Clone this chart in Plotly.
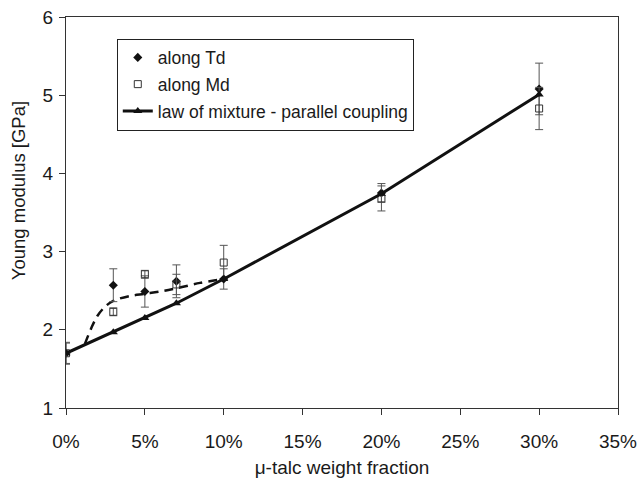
import plotly.graph_objects as go

# data
frac = [0.0, 0.03, 0.05, 0.07, 0.10, 0.20, 0.30]
td_vals = [1.70, 2.57, 2.49, 2.62, 2.65, 3.75, 5.08]
td_err = [0.14, 0.21, 0.20, 0.21, 0.13, 0.12, 0.33]
md_vals = [1.70, 2.23, 2.71, 2.58, 2.86, 3.68, 4.83]
md_err = [0.13, 0.05, 0.05, 0.13, 0.22, 0.16, 0.27]
law_vals = [1.70, 1.97, 2.15, 2.34, 2.65, 3.74, 5.01]
trend_x = [0.012, 0.016, 0.02, 0.025, 0.03, 0.04, 0.05, 0.06, 0.07, 0.085, 0.097]
trend_y = [1.82, 2.02, 2.18, 2.30, 2.37, 2.43, 2.46, 2.49, 2.53, 2.60, 2.64]

FONT = "Liberation Sans, Arial, sans-serif"
TXT = "#1a1a1a"

fig = go.Figure()

fig.add_trace(go.Scatter(
    x=trend_x, y=trend_y, mode="lines", showlegend=False,
    line=dict(color="#111111", width=2.5, dash="9px,6px", shape="spline"),
    hoverinfo="skip"))

fig.add_trace(go.Scatter(
    x=frac, y=td_vals, mode="markers", name="along Td", legendgroup="a",
    marker=dict(symbol="diamond", size=7, color="#111111"),
    error_y=dict(type="data", array=td_err, color="#555555", thickness=1, width=4)))

fig.add_trace(go.Scatter(
    x=frac, y=md_vals, mode="markers", name="along Md", legendgroup="b",
    marker=dict(symbol="square-open", size=7, color="#333333", line=dict(width=1)),
    error_y=dict(type="data", array=md_err, color="#555555", thickness=1, width=4)))

fig.add_trace(go.Scatter(
    x=frac, y=law_vals, mode="lines+markers",
    name="law of mixture - parallel coupling", legendgroup="c",
    line=dict(color="#111111", width=3),
    marker=dict(symbol="triangle-up", size=8, color="#111111")))

fig.update_layout(
    width=640, height=481,
    margin=dict(l=66, r=22, t=17, b=73, autoexpand=False),
    paper_bgcolor="white", plot_bgcolor="white",
    font=dict(family=FONT, size=17, color=TXT),
    legend=dict(x=0.092, y=0.945, xanchor="left", yanchor="top",
                bordercolor="#222222", borderwidth=1, bgcolor="white",
                font=dict(family=FONT, size=17.5, color=TXT),
                tracegroupgap=1, traceorder="grouped", itemwidth=30),
    annotations=[dict(text="Young modulus [GPa]", xref="paper", yref="paper",
                      x=-0.087, y=0.557, xanchor="center", yanchor="middle",
                      textangle=-90, showarrow=False,
                      font=dict(family=FONT, size=18.5, color=TXT))],
)
fig.update_xaxes(
    range=[0, 0.35], dtick=0.05, tick0=0, tickformat=".0%",
    showgrid=False, zeroline=False, automargin=False,
    showline=True, linecolor="#333333", linewidth=1, mirror=True,
    ticks="outside", ticklen=6, tickcolor="#333333",
    tickfont=dict(size=19, color=TXT), ticklabelstandoff=10,
    title=dict(text="μ-talc weight fraction", font=dict(size=19, color=TXT), standoff=9))
fig.update_yaxes(
    range=[1, 6], dtick=1, tick0=1,
    showgrid=False, zeroline=False, automargin=False,
    showline=True, linecolor="#333333", linewidth=1, mirror=True,
    ticks="outside", ticklen=6, tickcolor="#333333",
    tickfont=dict(size=19, color=TXT), ticklabelstandoff=2)

fig.write_html("out.html")
